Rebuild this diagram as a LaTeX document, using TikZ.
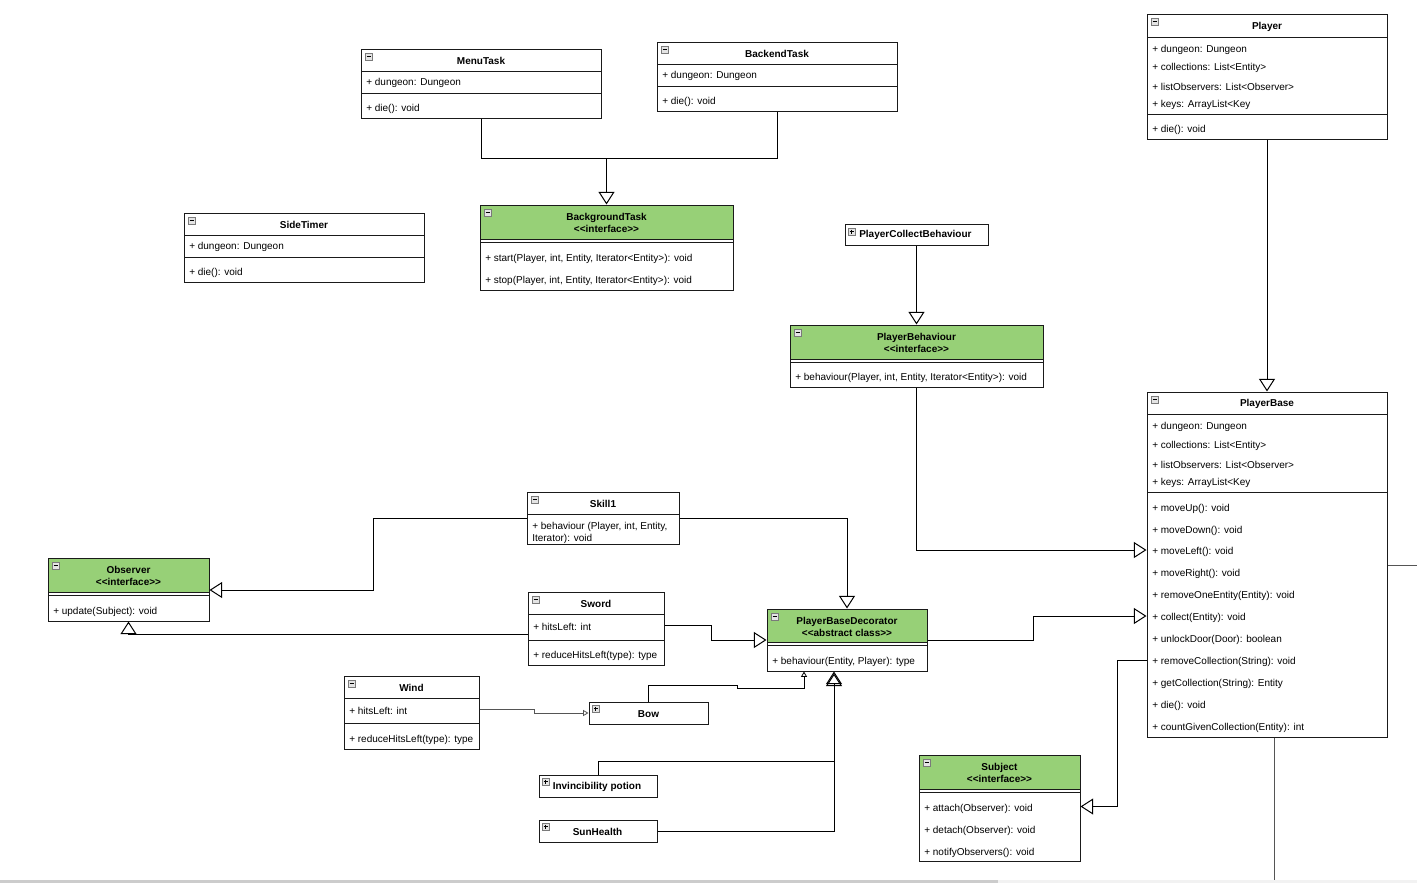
\documentclass[tikz,border=0pt]{standalone}
\usepackage{fontspec}
\setmainfont{Liberation Sans}[Ligatures=TeXOff]
\usetikzlibrary{arrows.meta,fit}
\definecolor{umlgreen}{HTML}{97D077}
\definecolor{icongray}{HTML}{7A7A7A}
\definecolor{iconfill}{HTML}{E4E4E4}
\definecolor{linegray}{HTML}{555555}
\definecolor{boxline}{HTML}{1A1A1A}
\newcommand{\umlfs}{\fontsize{7.5}{9}\selectfont}
\tikzset{
  umlbox/.style={draw=boxline, line width=0.75pt, inner sep=0pt},
  ttl/.style={font=\umlfs\bfseries, inner sep=0pt, align=center, yshift=-0.6pt},
  mem/.style={font=\umlfs, inner sep=0pt, anchor=west, align=left, yshift=-0.8pt},
  sepline/.style={draw=boxline, line width=0.75pt},
  conn/.style={draw=black, line width=0.75pt, line join=miter},
  inh/.style={conn, -{Triangle[open, length=9.5pt, width=12pt, line width=0.75pt]}},
  inhs/.style={conn, -{Triangle[open, length=4pt, width=4.5pt, line width=0.6pt]}},
  colicon/.pic={
    \draw[draw=icongray, fill=iconfill, line width=0.5pt] (0,0) rectangle (7,7);
    \draw[black, line width=0.6pt] (1.5,3.5) -- (5.5,3.5);
  },
  expicon/.pic={
    \draw[draw=icongray, fill=iconfill, line width=0.5pt] (0,0) rectangle (7,7);
    \draw[black, line width=0.6pt] (1.5,3.5) -- (5.5,3.5) (3.5,1.5) -- (3.5,5.5);
  },
}
\begin{document}
\begin{tikzpicture}[x=0.75pt, y=-0.75pt]
\useasboundingbox (0,0) rectangle (1417,883);
\fill[white] (0,0) rectangle (1417,883);
% scrollbar
\fill[gray!40] (0,880) rectangle (998,883);
\fill[gray!10] (998,880) rectangle (1417,883);

% ---------- MenuTask
\node[umlbox, fit={(361,49) (601,118)}] (menu) {};
\draw[sepline] (361,71) -- (601,71) (361,93) -- (601,93);
\pic at (365,53) {colicon};
\node[ttl] (menuT) at (481,60) {MenuTask};
\node[mem] (menuA) at (366,82) {+ dungeon: Dungeon};
\node[mem] (menuM) at (366,108) {+ die(): void};

% ---------- BackendTask
\node[umlbox, fit={(657,42) (897,111)}] (back) {};
\draw[sepline] (657,64) -- (897,64) (657,86) -- (897,86);
\pic at (661,46) {colicon};
\node[ttl] (backT) at (777,53) {BackendTask};
\node[mem] (backA) at (662,75) {+ dungeon: Dungeon};
\node[mem] (backM) at (662,101) {+ die(): void};

% ---------- SideTimer
\node[umlbox, fit={(184,213) (424,282)}] (side) {};
\draw[sepline] (184,235) -- (424,235) (184,257) -- (424,257);
\pic at (188,217) {colicon};
\node[ttl] (sideT) at (304,224) {SideTimer};
\node[mem] (sideA) at (189,246) {+ dungeon: Dungeon};
\node[mem] (sideM) at (189,272) {+ die(): void};

% ---------- BackgroundTask
\fill[umlgreen] (480,205) rectangle (733,239);
\node[umlbox, fit={(480,205) (733,290)}] (bgt) {};
\draw[sepline] (480,239) -- (733,239) (480,242) -- (733,242);
\pic at (484,209) {colicon};
\node[ttl] (bgtT) at (606.5,222.5) {BackgroundTask\\<<interface>>};
\node[mem] (bgtM1) at (485,257.5) {+ start(Player, int, Entity, Iterator<Entity>): void};
\node[mem] (bgtM2) at (485,279.5) {+ stop(Player, int, Entity, Iterator<Entity>): void};

% ---------- PlayerCollectBehaviour
\node[umlbox, fit={(845,224) (988,245)}] (pcb) {};
\pic at (848,228) {expicon};
\node[ttl, anchor=west] (pcbT) at (859,234.5) {PlayerCollectBehaviour};

% ---------- PlayerBehaviour
\fill[umlgreen] (790,325) rectangle (1043,359);
\node[umlbox, fit={(790,325) (1043,387)}] (pb) {};
\draw[sepline] (790,359) -- (1043,359) (790,362) -- (1043,362);
\pic at (794,329) {colicon};
\node[ttl] (pbT) at (916.5,342.5) {PlayerBehaviour\\<<interface>>};
\node[mem] (pbM) at (795,376.5) {+ behaviour(Player, int, Entity, Iterator<Entity>): void};

% ---------- Player
\node[umlbox, fit={(1147,14) (1387,139)}] (player) {};
\draw[sepline] (1147,37) -- (1387,37) (1147,114.5) -- (1387,114.5);
\pic at (1151,18) {colicon};
\node[ttl] (playerT) at (1267,26) {Player};
\node[mem] (playerA1) at (1152,48.5) {+ dungeon: Dungeon};
\node[mem] (playerA2) at (1152,66.5) {+ collections: List<Entity>};
\node[mem] (playerA3) at (1152,85.5) {+ listObservers: List<Observer>};
\node[mem] (playerA4) at (1152,104) {+ keys: ArrayList<Key};
\node[mem] (playerM1) at (1152,129) {+ die(): void};

% ---------- PlayerBase
\node[umlbox, fit={(1147,392) (1387,737)}] (pbase) {};
\draw[sepline] (1147,414) -- (1387,414) (1147,492) -- (1387,492);
\pic at (1151,396) {colicon};
\node[ttl] (pbaseT) at (1267,403) {PlayerBase};
\node[mem] (pbaseA1) at (1152,425.5) {+ dungeon: Dungeon};
\node[mem] (pbaseA2) at (1152,444.5) {+ collections: List<Entity>};
\node[mem] (pbaseA3) at (1152,463.5) {+ listObservers: List<Observer>};
\node[mem] (pbaseA4) at (1152,481.5) {+ keys: ArrayList<Key};
\node[mem] (pbaseM1) at (1152,507.5) {+ moveUp(): void};
\node[mem] (pbaseM2) at (1152,529.5) {+ moveDown(): void};
\node[mem] (pbaseM3) at (1152,551) {+ moveLeft(): void};
\node[mem] (pbaseM4) at (1152,572.5) {+ moveRight(): void};
\node[mem] (pbaseM5) at (1152,594.5) {+ removeOneEntity(Entity): void};
\node[mem] (pbaseM6) at (1152,616.5) {+ collect(Entity): void};
\node[mem] (pbaseM7) at (1152,638.5) {+ unlockDoor(Door): boolean};
\node[mem] (pbaseM8) at (1152,660.5) {+ removeCollection(String): void};
\node[mem] (pbaseM9) at (1152,682.5) {+ getCollection(String): Entity};
\node[mem] (pbaseM10) at (1152,704.5) {+ die(): void};
\node[mem] (pbaseM11) at (1152,726.5) {+ countGivenCollection(Entity): int};

% ---------- Skill1
\node[umlbox, fit={(527,492) (679,544)}] (skill) {};
\draw[sepline] (527,514) -- (679,514);
\pic at (531,496) {colicon};
\node[ttl] (skillT) at (603,503.5) {Skill1};
\node[mem] (skillM) at (532,531.5) {+ behaviour (Player, int, Entity,\\Iterator): void};

% ---------- Observer
\fill[umlgreen] (48,558) rectangle (209,592);
\node[umlbox, fit={(48,558) (209,621)}] (obs) {};
\draw[sepline] (48,592) -- (209,592) (48,595) -- (209,595);
\pic at (52,562) {colicon};
\node[ttl] (obsT) at (128.5,575.5) {Observer\\<<interface>>};
\node[mem] (obsM) at (53,610.5) {+ update(Subject): void};

% ---------- Sword
\node[umlbox, fit={(528,592) (664,665)}] (sword) {};
\draw[sepline] (528,614) -- (664,614) (528,640) -- (664,640);
\pic at (532,596) {colicon};
\node[ttl] (swordT) at (596,603.5) {Sword};
\node[mem] (swordA) at (533,625.5) {+ hitsLeft: int};
\node[mem] (swordM) at (533,654.5) {+ reduceHitsLeft(type): type};

% ---------- PlayerBaseDecorator
\fill[umlgreen] (767,609) rectangle (927,642);
\node[umlbox, fit={(767,609) (927,671)}] (pbd) {};
\draw[sepline] (767,642) -- (927,642) (767,645) -- (927,645);
\pic at (771,613) {colicon};
\node[ttl] (pbdT) at (847,626.5) {PlayerBaseDecorator\\<<abstract class>>};
\node[mem] (pbdM) at (772,660.5) {+ behaviour(Entity, Player): type};

% ---------- Wind
\node[umlbox, fit={(344,676) (479,749)}] (wind) {};
\draw[sepline] (344,698.5) -- (479,698.5) (344,723.5) -- (479,723.5);
\pic at (348,680) {colicon};
\node[ttl] (windT) at (411.5,687.5) {Wind};
\node[mem] (windA) at (349,709.5) {+ hitsLeft: int};
\node[mem] (windM) at (349,738.5) {+ reduceHitsLeft(type): type};

% ---------- Bow
\node[umlbox, fit={(589,702) (708,724)}] (bow) {};
\pic at (592,705) {expicon};
\node[ttl] (bowT) at (648.5,713.5) {Bow};

% ---------- Invincibility potion
\node[umlbox, fit={(539,775) (657,797)}] (inv) {};
\pic at (542,778) {expicon};
\node[ttl, anchor=west] (invT) at (552.5,786.5) {Invincibility potion};

% ---------- SunHealth
\node[umlbox, fit={(539,820) (657,842)}] (sun) {};
\pic at (542,823) {expicon};
\node[ttl] (sunT) at (597.5,831.5) {SunHealth};

% ---------- Subject
\fill[umlgreen] (919,755) rectangle (1080,789);
\node[umlbox, fit={(919,755) (1080,861)}] (subj) {};
\draw[sepline] (919,789) -- (1080,789) (919,792) -- (1080,792);
\pic at (923,759) {colicon};
\node[ttl] (subjT) at (999.5,772.5) {Subject\\<<interface>>};
\node[mem] (subjM1) at (924,807.5) {+ attach(Observer): void};
\node[mem] (subjM2) at (924,829.5) {+ detach(Observer): void};
\node[mem] (subjM3) at (924,851.5) {+ notifyObservers(): void};

% ---------- connector turn points
\coordinate (j1) at (606.5,158);
\coordinate (t1) at (916.5,550);
\coordinate (offR) at (1417,565);
\coordinate (offB) at (1274,880);
\coordinate (k1) at (373,518);
\coordinate (k2) at (373,590);
\coordinate (k3) at (847,518);
\coordinate (k4) at (128.5,634);
\coordinate (k5) at (711,625.5);
\coordinate (k6) at (711,640);
\coordinate (k7) at (1033,640);
\coordinate (k8) at (1033,616);
\coordinate (k9) at (534,709.5);
\coordinate (k10) at (534,713);
\coordinate (k11) at (648.5,685.5);
\coordinate (k12) at (737,685.5);
\coordinate (k13) at (737,688);
\coordinate (k14) at (804,688);
\coordinate (k15) at (598,761);
\coordinate (k16) at (834,761);
\coordinate (k17) at (834,831.5);
\coordinate (k18) at (1117,660.5);
\coordinate (k19) at (1117,806.5);

% ---------- connectors
\draw[conn] (menu.south) |- (j1);
\draw[conn] (back.south) |- (j1);
\draw[inh] (j1) -- (bgt.north);
\draw[inh] (pcb.south) -- (pb.north);
\draw[inh] (pb.south) -- (t1) -- (pbase.west |- t1);
\draw[inh] (player.south) -- (pbase.north);
\draw[conn, draw=linegray] (pbase.east |- offR) -- (offR);
\draw[conn, draw=linegray] (pbase.south -| offB) -- (offB);
\draw[inh] (skill.west |- k1) -- (k1) -- (k2) -- (obs.east |- k2);
\draw[inh] (skill.east |- k3) -- (k3) -- (pbd.north -| k3);
\draw[inh] (sword.west |- k4) -- (k4) -- (obs.south -| k4);
\draw[inh] (sword.east |- k5) -- (k5) -- (k6) -- (pbd.west |- k6);
\draw[inh] (pbd.east |- k7) -- (k7) -- (k8) -- (pbase.west |- k8);
\draw[inhs, draw=linegray] (wind.east |- k9) -- (k9) -- (k10) -- (bow.west |- k10);
\draw[inhs] (bow.north -| k11) -- (k11) -- (k12) -- (k13) -- (k14) -- (pbd.south -| k14);
\draw[inh] (inv.north -| k15) -- (k15) -- (k16) -- (pbd.south -| k16);
\draw[inh, shorten >=1.5pt] (sun.east |- k17) -- (k17) -- (pbd.south -| k17);
\draw[inh] (pbase.west |- k18) -- (k18) -- (k19) -- (subj.east |- k19);
\end{tikzpicture}
\end{document}
